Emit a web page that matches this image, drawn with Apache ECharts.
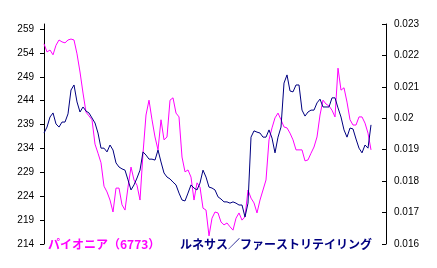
<!DOCTYPE html>
<html>
<head>
<meta charset="utf-8">
<script src="https://cdn.jsdelivr.net/npm/echarts@6/dist/echarts.min.js"></script>
<style>
html,body{margin:0;padding:0;background:#fff;}
#chart{width:437px;height:268px;}
</style>
</head>
<body>
<div id="chart"></div>
<script>
// Trading-day index (unlabelled x axis); the axis runs a little past the last observation
const categories = Array.from({length: 115}, (_, i) => i);

// パイオニア（6773） – left axis
const pioneer = [
255.9,254.2,254.6,253.6,255.6,256.7,256.3,256.1,256.7,256.9,
256.7,253.8,250.0,245.6,241.6,240.8,240.0,234.9,233.0,231.0,
226.1,224.9,223.2,220.7,225.7,225.7,222.2,221.1,225.9,230.1,
227.4,226.3,223.2,233.0,241.0,244.1,240.0,236.4,233.7,240.0,
235.8,236.4,244.1,244.6,241.4,240.6,232.2,229.1,229.5,228.0,
223.2,226.8,225.9,221.5,221.1,215.7,219.4,220.7,220.5,218.6,
218.0,218.4,217.6,216.9,219.4,220.5,219.0,219.7,225.3,223.6,
222.6,220.5,223.2,225.3,227.4,235.8,238.3,240.4,241.4,240.0,
238.5,238.3,237.2,235.8,233.7,233.7,233.7,231.4,231.6,233.0,
234.3,236.4,241.0,244.1,243.3,242.9,242.0,240.6,250.8,246.2,
246.7,243.7,240.0,238.9,238.9,240.6,240.6,239.3,237.2,233.7
];

// ルネサス／ファーストリテイリング – right axis
const renesasRatio = [
0.01953,0.01972,0.02004,0.02017,0.01982,0.01972,0.01988,0.01988,0.02014,0.02090,
0.02106,0.02052,0.02020,0.02036,0.02023,0.02017,0.02001,0.01985,0.01953,0.01905,
0.01905,0.01893,0.01915,0.01899,0.01858,0.01845,0.01839,0.01835,0.01804,0.01772,
0.01788,0.01810,0.01835,0.01893,0.01883,0.01870,0.01870,0.01867,0.01899,0.01861,
0.01826,0.01813,0.01807,0.01797,0.01788,0.01762,0.01740,0.01737,0.01762,0.01788,
0.01778,0.01772,0.01794,0.01835,0.01813,0.01781,0.01778,0.01772,0.01750,0.01743,
0.01734,0.01734,0.01730,0.01734,0.01730,0.01724,0.01724,0.01686,0.01730,0.01940,
0.01960,0.01956,0.01953,0.01940,0.01940,0.01963,0.01937,0.01890,0.01940,0.01972,
0.02112,0.02138,0.02087,0.02084,0.02106,0.02106,0.02026,0.02007,0.02020,0.02026,
0.02026,0.02049,0.02061,0.02036,0.02036,0.02036,0.02065,0.02065,0.02033,0.02004,
0.01963,0.01940,0.01969,0.01966,0.01934,0.01905,0.01890,0.01915,0.01905,0.01979
];

const leftTicks = [214,219,224,229,234,239,244,249,254,259];
const rightTicks = [0.016,0.017,0.018,0.019,0.02,0.021,0.022,0.023];
const seriesNames = ['パイオニア（6773）', 'ルネサス／ファーストリテイリング'];

const chart = echarts.init(document.getElementById('chart'), null, {renderer: 'canvas'});
const labelFont = {color: '#000', fontSize: 10, fontFamily: 'Liberation Sans, Arial, sans-serif'};
chart.setOption({
  animation: false,
  backgroundColor: '#fff',
  grid: {left: 44, right: 51, top: 24, bottom: 24, containLabel: false},
  xAxis: {
    type: 'category', data: categories, boundaryGap: false,
    axisLine: {show: false}, axisTick: {show: false}, axisLabel: {show: false}, splitLine: {show: false}
  },
  yAxis: [
    {
      type: 'value', position: 'left', min: 214, max: 214 + 45 * 220 / 215,
      axisLine: {show: true, lineStyle: {color: '#000', width: 1}},
      axisTick: {show: true, length: 4, inside: false, customValues: leftTicks, lineStyle: {color: '#000'}},
      axisLabel: Object.assign({margin: 10, customValues: leftTicks}, labelFont),
      splitLine: {show: false}
    },
    {
      type: 'value', position: 'right', min: 0.016, max: 0.023, interval: 0.001,
      axisLine: {show: true, lineStyle: {color: '#000', width: 1}},
      axisTick: {show: true, length: 4, inside: true, customValues: rightTicks, lineStyle: {color: '#000'}},
      axisLabel: Object.assign({margin: 8, customValues: rightTicks, formatter: v => String(+v.toFixed(3))}, labelFont),
      splitLine: {show: false}
    }
  ],
  series: [
    {
      name: seriesNames[0], type: 'line', yAxisIndex: 0, data: pioneer,
      symbol: 'none', step: false, lineStyle: {color: '#FF00FF', width: 1}, z: 2
    },
    {
      name: seriesNames[1], type: 'line', yAxisIndex: 1, data: renesasRatio,
      symbol: 'none', lineStyle: {color: '#000080', width: 1}, z: 3
    }
  ],
  graphic: [
    {type: 'text', left: 48, top: 238, style: {text: seriesNames[0], fill: '#FF00FF',
      font: 'bold 12px "Noto Sans CJK JP", sans-serif'}},
    {type: 'text', left: 180, top: 238, style: {text: seriesNames[1], fill: '#000080',
      font: 'bold 12px "Noto Sans CJK JP", sans-serif'}}
  ]
});
</script>
</body>
</html>
